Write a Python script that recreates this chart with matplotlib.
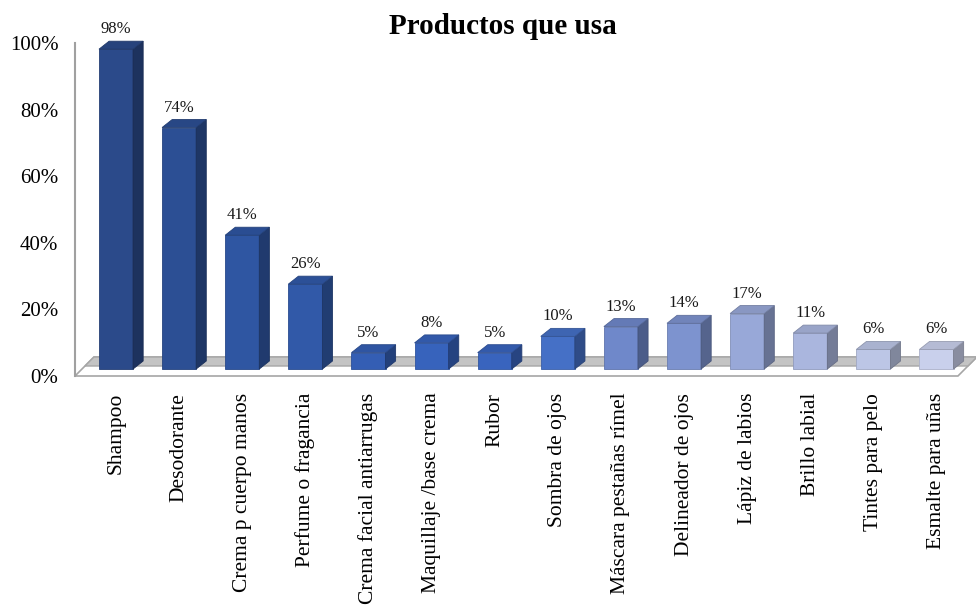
import matplotlib
matplotlib.use("Agg")
import matplotlib.pyplot as plt
from matplotlib.colors import to_rgb
from matplotlib.patches import Polygon
from matplotlib.transforms import ScaledTranslation

productos = [
    "Shampoo", "Desodorante", "Crema p cuerpo manos", "Perfume o fragancia",
    "Crema facial antiarrugas", "Maquillaje /base crema", "Rubor", "Sombra de ojos",
    "Máscara pestañas rímel", "Delineador de ojos", "Lápiz de labios", "Brillo labial",
    "Tintes para pelo", "Esmalte para uñas",
]
porcentajes = [98, 74, 41, 26, 5, 8, 5, 10, 13, 14, 17, 11, 6, 6]
colores = [
    "#2B4A8A", "#2C4F94", "#2F56A2", "#3159A8", "#345EB4", "#3763BC", "#3964BE",
    "#4570C6", "#6F88CA", "#7D93CF", "#98A8D8", "#AAB6DE", "#BCC6E6", "#C9D0EC",
]
y_ticks = [0, 20, 40, 60, 80, 100]

plt.rcParams["font.family"] = ["Liberation Serif", "DejaVu Serif"]


def shade(color, f):
    r, g, b = to_rgb(color)
    return (r * f, g * f, b * f)


fig = plt.figure(figsize=(9.76, 6.13), dpi=100)
ax = fig.add_axes([75 / 976, 237 / 613, 900 / 976, 333 / 613])
ax.set_xlim(-0.65, 13.61)
ax.set_ylim(0, 100)

# floor of the pseudo 3D chart
x_left, x_right = -0.65, 13.34
depth_x, depth_y, band_y = 0.30, 5.7, 3.0
edge = "#A6A6A6"
ax.add_patch(Polygon([(x_left, 0), (x_right, 0), (x_right + depth_x, depth_y),
                      (x_left + depth_x, depth_y)], closed=True,
                     facecolor="white", edgecolor=edge, lw=1.2, zorder=1, clip_on=False))
f = band_y / depth_y
ax.add_patch(Polygon([(x_left + depth_x * f, band_y), (x_right + depth_x * f, band_y),
                      (x_right + depth_x, depth_y), (x_left + depth_x, depth_y)], closed=True,
                     facecolor="#C4C4C4", edgecolor=edge, lw=1.0, zorder=1, clip_on=False))

# bars: front, side and top faces
half_w, dx, dy, base, scale = 0.27, 0.16, 2.4, 2.1, 0.98
for i, (v, c) in enumerate(zip(porcentajes, colores)):
    x0, x1 = i - half_w, i + half_w
    top = base + v * scale
    ax.add_patch(Polygon([(x0, base), (x1, base), (x1, top), (x0, top)], closed=True,
                         facecolor=c, edgecolor=shade(c, 0.85), lw=0.6, zorder=3, clip_on=False))
    ax.add_patch(Polygon([(x1, base), (x1 + dx, base + dy), (x1 + dx, top + dy), (x1, top)],
                         closed=True, facecolor=shade(c, 0.68), edgecolor=shade(c, 0.6),
                         lw=0.6, zorder=3, clip_on=False))
    ax.add_patch(Polygon([(x0, top), (x1, top), (x1 + dx, top + dy), (x0 + dx, top + dy)],
                         closed=True, facecolor=shade(c, 0.9), edgecolor=shade(c, 0.75),
                         lw=0.6, zorder=3, clip_on=False))
    ax.text(i, top + dy + 1.2, f"{v}%", ha="center", va="bottom", fontsize=12,
            color="#1A1A1A", zorder=4, clip_on=False)

ax.set_xticks(range(len(productos)))
ax.set_xticklabels(productos, rotation=90, ha="center", va="top", fontsize=15.5)
shift = ScaledTranslation(-5 / 100, 0, fig.dpi_scale_trans)
for lbl in ax.get_xticklabels():
    lbl.set_transform(lbl.get_transform() + shift)
ax.set_yticks(y_ticks)
ax.set_yticklabels([f"{t}%" for t in y_ticks], fontsize=15)
ax.tick_params(axis="x", length=0, pad=12)
ax.tick_params(axis="y", length=0, pad=12)
for s in ["top", "right", "bottom"]:
    ax.spines[s].set_visible(False)
ax.spines["left"].set_color("#A0A0A0")
ax.spines["left"].set_linewidth(1.5)

fig.text(503 / 976, 1 - 26 / 613, "Productos que usa", ha="center", va="center",
         fontsize=21, fontweight="bold")

fig.savefig("out.png", dpi=100)
